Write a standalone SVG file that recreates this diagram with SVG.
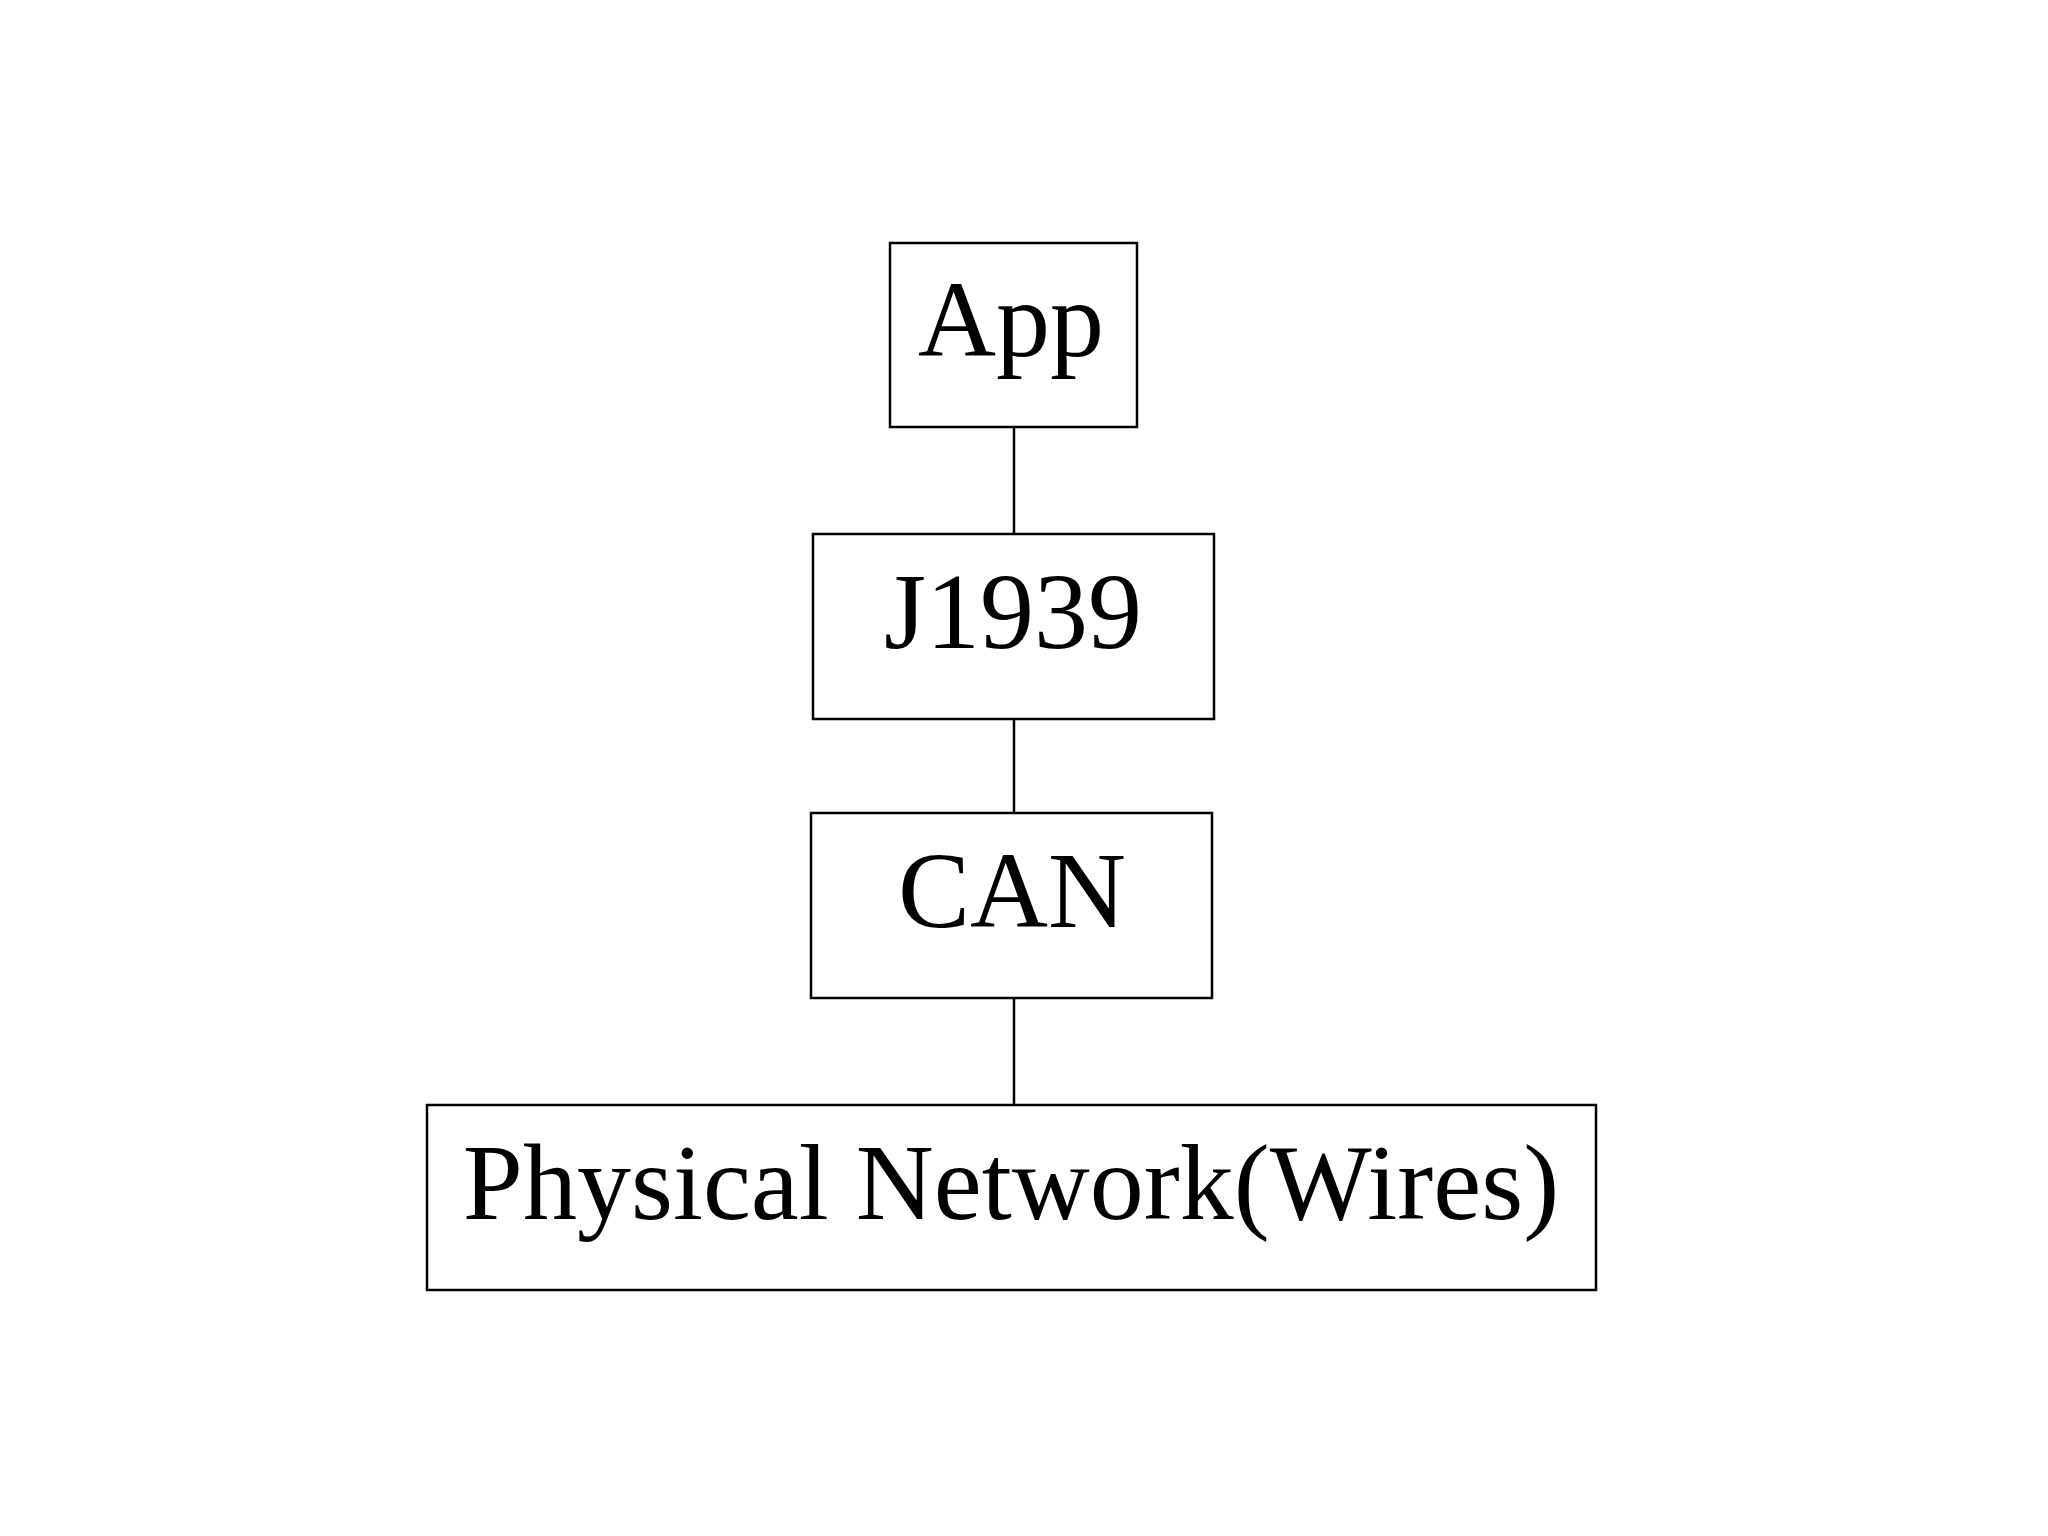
<svg xmlns="http://www.w3.org/2000/svg" width="2048" height="1536" viewBox="0 0 2048 1536">
<style>
.box{fill:#fff;stroke:#000;stroke-width:2.5}
.lbl{font-family:"Liberation Serif","Times New Roman",serif;font-size:108px;fill:#000;text-anchor:middle}
.conn{stroke:#000;stroke-width:2.5;fill:none}
</style>
<rect width="2048" height="1536" fill="#fff"/>
<g id="connectors">
<line class="conn" x1="1014" y1="427" x2="1014" y2="534"/>
<line class="conn" x1="1014" y1="719" x2="1014" y2="813"/>
<line class="conn" x1="1014" y1="998" x2="1014" y2="1105"/>
</g>
<g id="app">
<rect class="box" x="890" y="243" width="247" height="184"/>
<text class="lbl" x="1011" y="356">App</text>
</g>
<g id="j1939">
<rect class="box" x="813" y="534" width="401" height="185"/>
<text class="lbl" x="1013" y="648">J1939</text>
</g>
<g id="can">
<rect class="box" x="811" y="813" width="401" height="185"/>
<text class="lbl" x="1012" y="927">CAN</text>
</g>
<g id="physical">
<rect class="box" x="427" y="1105" width="1169" height="185"/>
<text class="lbl" x="1011" y="1219">Physical Network(Wires)</text>
</g>
</svg>
